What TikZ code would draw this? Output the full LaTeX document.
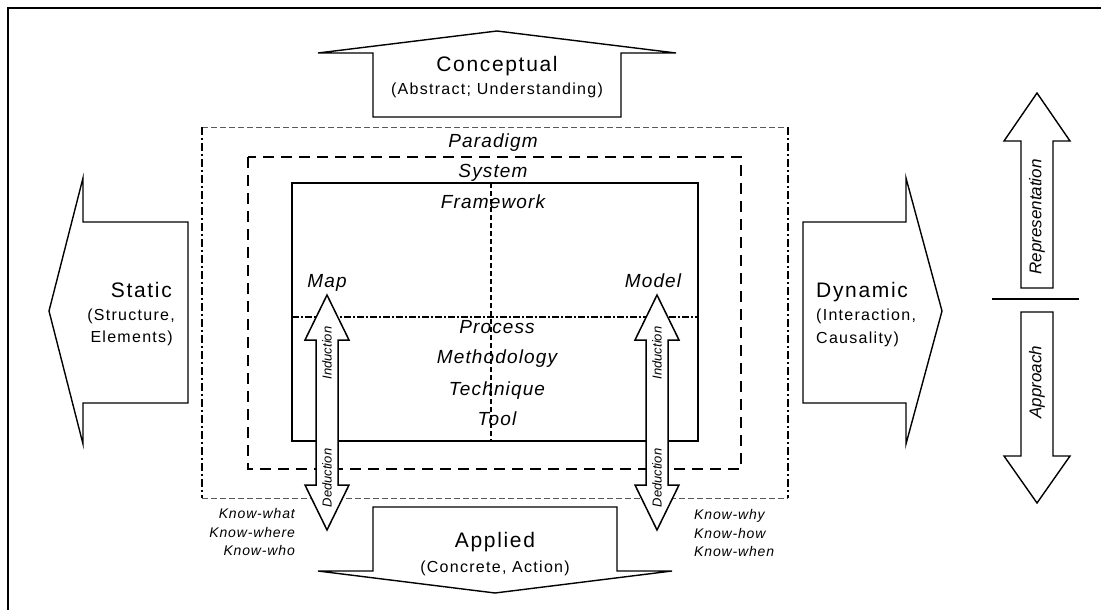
\documentclass[tikz,border=0pt]{standalone}
\usepackage{fontspec}
\setmainfont{Liberation Sans}
\newfontfamily\ttlfont[LetterSpace=8]{Liberation Sans}
\newfontfamily\lblfont[LetterSpace=6]{Liberation Sans}
\usetikzlibrary{positioning}

\begin{document}
\begin{tikzpicture}[x=1pt, y=-1pt,
    blk/.style={draw, line width=1.4pt, fill=white, line join=miter},
    ttl/.style={font=\ttlfont\fontsize{21}{21}\selectfont, inner sep=0pt, anchor=base},
    sub/.style={font=\ttlfont\fontsize{16}{16}\selectfont, inner sep=0pt, anchor=base},
    lbl/.style={font=\lblfont\itshape\fontsize{19}{19}\selectfont, inner sep=0pt, anchor=base},
    know/.style={font=\lblfont\itshape\fontsize{14}{14}\selectfont, inner sep=0pt, anchor=base},
    rot/.style={font=\itshape\fontsize{13}{13}\selectfont, inner sep=0pt, rotate=90},
    rotbig/.style={rot, font=\itshape\fontsize{17}{17}\selectfont},
  ]
  \useasboundingbox (0,0) rectangle (1101,610);

  % outer frame
  \draw[line width=2.4pt] (1101,8) -- (8,8) -- (8,610);

  % Paradigm / System / Framework
  \coordinate (parNW) at (202,127);
  \coordinate (parNE) at (788,127);
  \coordinate (parSE) at (788,498);
  \coordinate (parSW) at (202,498);
  \draw[gray!70!black, line width=0.9pt, dash pattern=on 6pt off 3pt] (parNW) -- (parNE) (parSW) -- (parSE);
  \draw[line width=2pt, dash pattern=on 8pt off 3pt on 2pt off 3pt] (parNW) -- (parSW) (parNE) -- (parSE);
  \coordinate (sysNW) at (248,157);
  \coordinate (sysSE) at (741,469);
  \draw[line width=2.6pt, dash pattern=on 11pt off 7pt] (sysNW) rectangle (sysSE);
  \coordinate (fwNW) at (292,183);
  \coordinate (fwSE) at (698,441);
  \draw[line width=2.6pt] (fwNW) rectangle (fwSE);

  % quadrant lines
  \coordinate (fwtop) at (491,183);
  \coordinate (fwbot) at (491,441);
  \coordinate (fwleft) at (292,317);
  \coordinate (fwright) at (698,317);
  \draw[line width=1.3pt, dash pattern=on 5pt off 3pt] (fwtop) -- (fwbot);
  \draw[line width=2.4pt, dash pattern=on 7pt off 2pt on 2pt off 2pt] (fwleft) -- (fwright);

  \node[lbl] (paradigm) at (493,147) {Paradigm};
  \node[lbl] (system) at (493,177) {System};
  \node[lbl] (framework) at (493,208) {Framework};
  \node[lbl] (map) at (327,287) {Map};
  \node[lbl] (model) at (653,287) {Model};
  \node[lbl] (process) at (497,333) {Process};
  \node[lbl] (method) at (497,363) {Methodology};
  \node[lbl] (technique) at (497,395) {Technique};
  \node[lbl] (tool) at (497,425) {Tool};

  % Induction / Deduction arrows
  \foreach \x/\n in {327/map, 657/model} {
    \draw[blk, line width=1.5pt] (\x,295) -- (\x+22,340) -- (\x+11,340) -- (\x+11,485) -- (\x+22,485) -- (\x,530)
      -- (\x-22,485) -- (\x-11,485) -- (\x-11,340) -- (\x-22,340) -- cycle;
    \node[rot] (ind\n) at (\x,353) {Induction};
    \node[rot] (ded\n) at (\x,478) {Deduction};
  }

  % Conceptual
  \draw[blk] (497,31) -- (676,53) -- (621,53) -- (621,117) -- (373,117) -- (373,53) -- (318,53) -- cycle;
  \node[ttl] (concept) at (497,72) {Conceptual};
  \node[sub] (conceptsub) at (497,95) {(Abstract; Understanding)};

  % Applied
  \draw[blk] (373,507) -- (617,507) -- (617,571) -- (672,571) -- (495,593) -- (318,571) -- (373,571) -- cycle;
  \node[ttl] (applied) at (495,547) {Applied};
  \node[sub] (appliedsub) at (495,572) {(Concrete, Action)};

  % Static
  \draw[blk] (49,311) -- (83,178) -- (83,222) -- (188,222) -- (188,403) -- (83,403) -- (83,444) -- cycle;
  \node[ttl, anchor=base east] (static) at (172,297) {Static};
  \node[sub, anchor=base east] (staticsub) at (175,320) {(Structure,};
  \node[sub, anchor=base east] (staticsub2) at (173,342) {Elements)};

  % Dynamic
  \draw[blk] (942,311) -- (906,178) -- (906,222) -- (803,222) -- (803,403) -- (906,403) -- (906,444) -- cycle;
  \node[ttl, anchor=base west] (dynamic) at (816,297) {Dynamic};
  \node[sub, anchor=base west] (dynamicsub) at (816,320) {(Interaction,};
  \node[sub, anchor=base west] (dynamicsub2) at (816,343) {Causality)};

  % kinds of knowledge
  \node[know, anchor=base east] (kwhat) at (295,518) {Know-what};
  \node[know, anchor=base east] (kwhere) at (295,537) {Know-where};
  \node[know, anchor=base east] (kwho) at (295,555) {Know-who};
  \node[know, anchor=base west] (kwhy) at (694,519) {Know-why};
  \node[know, anchor=base west] (khow) at (694,538) {Know-how};
  \node[know, anchor=base west] (kwhen) at (694,556) {Know-when};

  % Representation / Approach
  \draw[blk] (1037,93) -- (1070,141) -- (1053,141) -- (1053,288) -- (1021,288) -- (1021,141) -- (1004,141) -- cycle;
  \node[rotbig] (repr) at (1037,217) {Representation};
  \coordinate (divL) at (992,299);
  \coordinate (divR) at (1079,299);
  \draw[line width=2.2pt] (divL) -- (divR);
  \draw[blk] (1021,312) -- (1053,312) -- (1053,456) -- (1070,456) -- (1037,503) -- (1004,456) -- (1021,456) -- cycle;
  \node[rotbig] (approach) at (1037,382) {Approach};
\end{tikzpicture}
\end{document}
